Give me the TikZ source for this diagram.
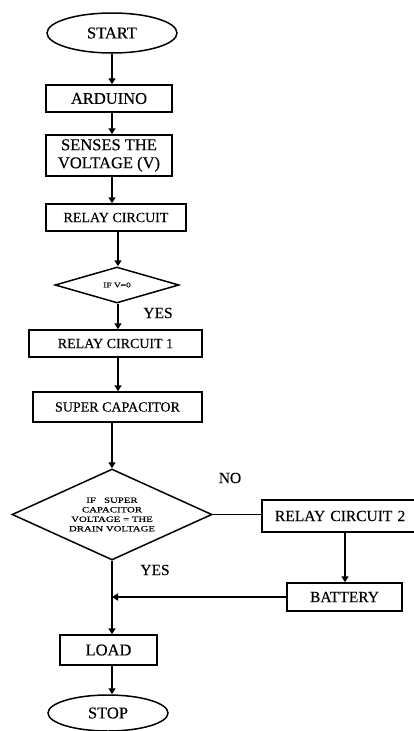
\documentclass[tikz,border=0pt]{standalone}
\usepackage{fontspec}
\setmainfont{Liberation Serif}[FakeBold=0.25]
\newfontfamily\widefont[FakeStretch=1.35,FakeBold=0.4]{Liberation Serif}
\usetikzlibrary{shapes.geometric,arrows.meta}
\begin{document}
\begin{tikzpicture}[x=1pt,y=-1pt,
  every node/.style={inner sep=0pt},
  box/.style={draw,line width=1.5pt,rectangle},
  term/.style={draw,line width=1.5pt,ellipse,font=\fontsize{16.5}{18}\selectfont},
  dec/.style={draw,line width=1.5pt,diamond,align=center},
  big/.style={font=\fontsize{16.5}{18}\selectfont},
  mid/.style={font=\fontsize{15.5}{17}\selectfont},
  sml/.style={font=\fontsize{14}{16}\selectfont},
  conn/.style={line width=1.5pt},
  arr/.style={conn,-{Triangle[length=6pt,width=7pt]}},
  lbl/.style={font=\fontsize{15.5}{17}\selectfont}]
\clip (0,0) rectangle (414,731);
\fill[white] (0,0) rectangle (414,731);
% columns
\coordinate (c1) at (112,0);
\coordinate (c2) at (118,0);
\coordinate (c3) at (112,0);
\coordinate (c4) at (345,0);
% nodes
\node[term,minimum width=130pt,minimum height=40pt] (start) at (112,33) {START};
\node[box,big,minimum width=126pt,minimum height=27pt] (arduino) at (109,98.5) {ARDUINO};
\node[box,big,align=center,minimum width=126pt,minimum height=41pt] (senses) at (109,155.5) {SENSES THE\\VOLTAGE (V)};
\node[box,sml,minimum width=140pt,minimum height=27pt] (relay) at (116,217.5) {RELAY CIRCUIT};
\node[dec,aspect=3.4,minimum width=124pt,minimum height=36pt,font=\widefont\fontsize{7}{8}\selectfont] (d1) at (117,285) {IF V=0};
\node[box,sml,minimum width=173pt,minimum height=27pt] (relay1) at (115.5,343.5) {RELAY CIRCUIT 1};
\node[box,sml,minimum width=169pt,minimum height=30pt] (supercap) at (117.5,407) {SUPER CAPACITOR};
\node[dec,aspect=2.2,minimum width=200pt,minimum height=91pt,font=\widefont\fontsize{8}{9.5}\selectfont] (d2) at (112,514.5) {IF\ \ \ SUPER\\CAPACITOR\\VOLTAGE = THE\\DRAIN VOLTAGE};
\node[box,mid,minimum width=170pt,minimum height=32pt,text width=150pt,align=left] (relay2) at (347,516) {\hspace*{3pt}RELAY CIRCUIT 2};
\node[box,mid,minimum width=115pt,minimum height=28pt] (battery) at (344.5,597) {BATTERY};
\node[box,big,minimum width=97pt,minimum height=30pt] (load) at (108.5,650) {LOAD};
\node[term,minimum width=120pt,minimum height=36pt] (stop) at (108,713) {STOP};
% labels
\node[lbl] (yes1) at (158,313) {YES};
\node[lbl] (no) at (230,478) {NO};
\node[lbl] (yes2) at (155,570) {YES};
% connectors
\draw[arr] (start.south) -- (arduino.north -| c1);
\draw[arr] (arduino.south -| c1) -- (senses.north -| c1);
\draw[arr] (senses.south -| c1) -- (relay.north -| c1);
\draw[arr] (relay.south -| c2) -- (d1.north -| c2);
\draw[arr] (d1.south -| c2) -- (relay1.north -| c2);
\draw[arr] (relay1.south -| c2) -- (supercap.north -| c2);
\draw[arr] (supercap.south -| c3) -- (d2.north);
\draw[conn] (d2.east) -- (d2.east -| relay2.west);
\draw[arr] (relay2.south -| c4) -- (battery.north -| c4);
\draw[arr] (battery.west) -- (battery.west -| c3);
\draw[arr] (d2.south) -- (load.north -| c3);
\draw[arr] (load.south -| c3) -- (stop.north -| c3);
\end{tikzpicture}
\end{document}
